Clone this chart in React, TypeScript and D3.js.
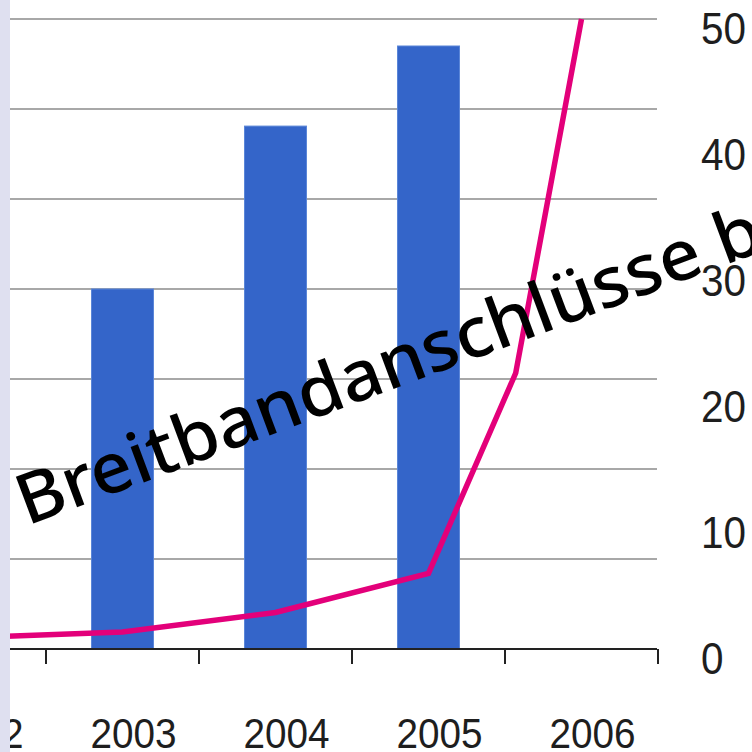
import React from "react";
import * as d3 from "d3";

const categories = ["2002", "2003", "2004", "2005", "2006"];
const barValues: (number | null)[] = [null, 4.0, 5.81, 6.7, null];
const leftGridTicks = [1, 2, 3, 4, 5, 6, 7];
const lineYears = [2002, 2003, 2004, 2005, 2005.57, 2006];
const lineValues = [0.9, 1.35, 2.9, 6.0, 21.9, 50];
const rightTicks = [0, 10, 20, 30, 40, 50];
const overlayText = "Breitbandanschlüsse bi";

const W = 752;
const H = 752;
const plotLeft = 10;
const plotRight = 657;
const yBottom = 649;
const yTop = 19;

export default function App() {
  const x = d3
    .scaleBand<string>()
    .domain(categories)
    .range([-107, 658])
    .paddingInner(0.595)
    .paddingOuter(0.2975);
  const step = x.step();
  const center = (c: string) => (x(c) as number) + x.bandwidth() / 2;
  const xYear = d3
    .scaleLinear()
    .domain([+categories[0], +categories[categories.length - 1]])
    .range([center(categories[0]), center(categories[categories.length - 1])]);
  const yLeft = d3.scaleLinear().domain([0, 7]).range([yBottom, yTop]);
  const yRight = d3.scaleLinear().domain([0, 50]).range([yBottom, yTop]);

  const line = d3
    .line<number>()
    .x((_, i) => xYear(lineYears[i]))
    .y((d) => yRight(d));

  const tickXs = categories.map((c) => (x(c) as number) - (step - x.bandwidth()) / 2);
  tickXs.push(tickXs[tickXs.length - 1] + step);

  return (
    <div style={{ position: "fixed", left: 0, top: 0, width: W, height: H, background: "#fff" }}>
      <svg width={W} height={H} style={{ display: "block" }}>
        <rect x={0} y={0} width={W} height={H} fill="#ffffff" />
        {leftGridTicks.map((t) => (
          <line
            key={t}
            x1={plotLeft}
            x2={plotRight}
            y1={yLeft(t)}
            y2={yLeft(t)}
            stroke="#a8a8a8"
            strokeWidth={2}
          />
        ))}
        {categories.map((c, i) =>
          barValues[i] == null ? null : (
            <rect
              key={c}
              x={x(c)}
              y={yLeft(barValues[i] as number)}
              width={x.bandwidth()}
              height={yBottom - yLeft(barValues[i] as number)}
              fill="#3465c9"
              stroke="#5a86d8"
              strokeWidth={1}
            />
          )
        )}
        <path
          d={line(lineValues) || ""}
          fill="none"
          stroke="#e3007a"
          strokeWidth={5.5}
          strokeLinejoin="miter"
        />
        <line x1={plotLeft} x2={plotRight} y1={yBottom} y2={yBottom} stroke="#222" strokeWidth={2} />
        {tickXs
          .filter((t) => t >= plotLeft - 1 && t <= plotRight + 2)
          .map((t, i) => (
            <line key={i} x1={t} x2={t} y1={yBottom} y2={yBottom + 15} stroke="#222" strokeWidth={2} />
          ))}
        {categories.map((c) => (
          <text
            key={c}
            transform={`translate(${center(c) + 11},${748}) scale(0.9,1)`}
            textAnchor="middle"
            fontFamily="'Liberation Sans', Arial, sans-serif"
            fontSize={43}
            fill="#1e1e1e"
          >
            {c}
          </text>
        ))}
        {rightTicks.map((t) => (
          <text
            key={t}
            transform={`translate(${701},${yRight(t) + 25}) scale(0.92,1)`}
            textAnchor="start"
            fontFamily="'Liberation Sans', Arial, sans-serif"
            fontSize={44}
            fill="#1e1e1e"
          >
            {t}
          </text>
        ))}
        <text
          transform={`translate(27,526) rotate(-20.5) scale(1.04,1)`}
          fontFamily="'Noto Sans', 'Open Sans', sans-serif"
          fontWeight={550}
          fontSize={70}
          fill="#000"
        >
          {overlayText}
        </text>
        <rect x={0} y={0} width={plotLeft} height={H} fill="#dfe0f0" />
      </svg>
    </div>
  );
}
